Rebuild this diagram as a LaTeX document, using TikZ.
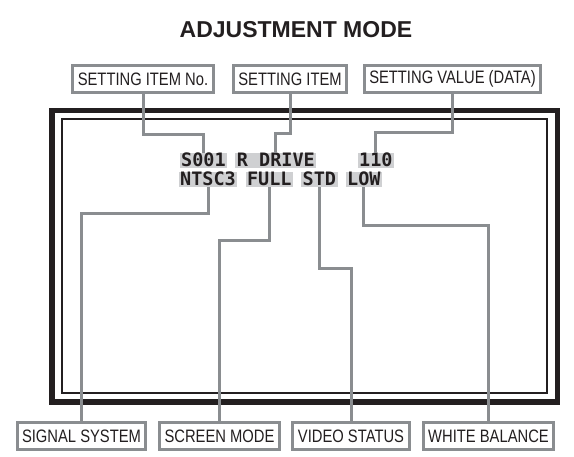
\documentclass[tikz,border=0pt]{standalone}
\usepackage{fontspec}
\newfontfamily\labelfont[FakeStretch=0.82]{Liberation Sans}
\newfontfamily\titlefont{Liberation Sans}
\newfontfamily\screenfont{DejaVu Sans Mono}
\definecolor{linegray}{HTML}{8A8D90}
\definecolor{inkblack}{HTML}{231F20}
\definecolor{tokengray}{HTML}{CFD0D2}
\begin{document}
\begin{tikzpicture}[x=1pt, y=-1pt,
	lbl/.style={draw=linegray, line width=3pt, fill=white, inner xsep=5pt, minimum height=27pt, text=inkblack, font=\labelfont\fontsize{18}{18}\selectfont},
	tok/.style={fill=tokengray, inner xsep=1.5pt, inner ysep=1pt, text height=13pt, text depth=0pt, anchor=west, text=inkblack, font=\screenfont\bfseries\fontsize{18.5}{18.5}\selectfont},
	wire/.style={draw=linegray, line width=3pt}]
			\useasboundingbox (0,0) rectangle (574,457);
			\node[font=\titlefont\bfseries\fontsize{23}{23}\selectfont, text=inkblack] (title) at (296,30) {ADJUSTMENT MODE};
			\draw [inkblack, line width=5.5pt] (51.75,110.75) rectangle (557.25,402.25);
			\draw [inkblack, line width=1.5pt] (62,119) rectangle (547,393);
			\node[lbl] (itemno) at (143,79) {SETTING ITEM No.};
			\node[lbl] (item) at (290,79) {SETTING ITEM};
			\node[lbl] (setvalue) at (452.5,79) {SETTING VALUE (DATA)};
			\node[tok] (s001) at (179.5,160.5) {S001};
			\node[tok] (rdrive) at (235.2,160.5) {R DRIVE};
			\node[tok] (val) at (357.5,160.5) {110};
			\node[tok] (ntsc) at (178.5,179.5) {NTSC3};
			\node[tok] (full) at (245.3,179.5) {FULL};
			\node[tok] (std) at (301,179.5) {STD};
			\node[tok] (low) at (345.5,179.5) {LOW};
			\node[lbl] (sigsys) at (81.5,436) {SIGNAL SYSTEM};
			\node[lbl] (scrmode) at (219.5,436) {SCREEN MODE};
			\node[lbl] (vidstat) at (351,436) {VIDEO STATUS};
			\node[lbl] (whitebal) at (488.5,436) {WHITE BALANCE};
			\draw [wire] (itemno.south) -- ++(0,41) -| (s001.north);
			\draw [wire] (item.south) -- ++(0,40) -| (rdrive.north);
			\draw [wire] (setvalue.south) -- ++(0,39) -| (val.north);
			\draw [wire] (ntsc.south) -- ++(0,26) -| (sigsys.north);
			\draw [wire] (full.south) -- ++(0,53) -| (scrmode.north);
			\draw [wire] (std.south) -- ++(0,81) -| (vidstat.north);
			\draw [wire] (low.south) -- ++(0,38) -| (whitebal.north);
\end{tikzpicture}
\end{document}
